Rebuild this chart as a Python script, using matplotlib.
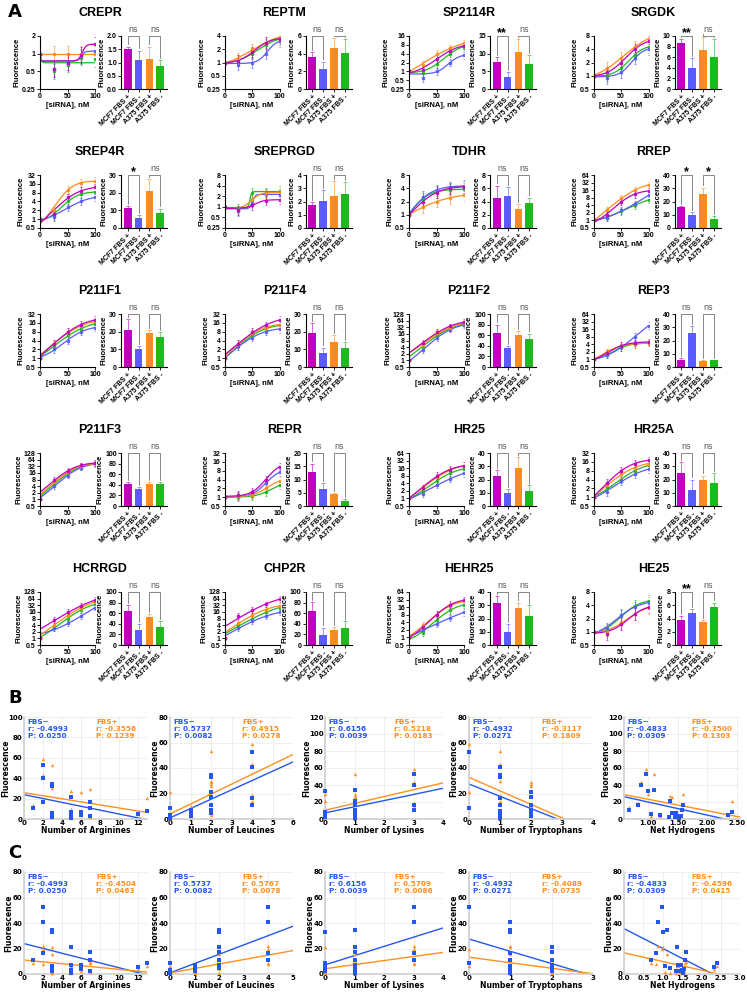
import numpy as np
import matplotlib
matplotlib.use('Agg')
import matplotlib.pyplot as plt
from matplotlib.ticker import FixedLocator

W, H = 747, 993
fig = plt.figure(figsize=(W / 100, H / 100), dpi=100)

# ---------------- data: panel A ----------------
peptides = ['CREPR', 'REPTM', 'SP2114R', 'SRGDK', 'SREP4R', 'SREPRGD', 'TDHR', 'RREP',
            'P211F1', 'P211F4', 'P211F2', 'REP3', 'P211F3', 'REPR', 'HR25', 'HR25A',
            'HCRRGD', 'CHP2R', 'HEHR25', 'HE25']
conc = [0, 25, 50, 75, 100]
# log2 range of the dose-response axes
ylog_lo = [-2, -2, -2, -1, -1, -2, -1, -1, -1, -1, -1, -1, -1, -1, -1, -1, -1, -1, -1, -1]
ylog_hi = [1, 2, 4, 3, 5, 3, 3, 6, 5, 5, 7, 6, 7, 5, 6, 5, 7, 7, 6, 3]

line_mcf7_plus = [[1, 0.55, 0.7, 0.95, 1.45], [1, 1.1, 1.7, 2.8, 3.5], [1, 1.1, 2.7, 5, 7.5],
                  [1, 1.2, 2, 4, 6], [1, 1.5, 5.5, 9, 12], [1, 0.8, 1.1, 1.5, 1.6],
                  [1, 2, 3.2, 4, 4.3], [1, 1.6, 5.5, 11, 15], [1, 3, 8, 14, 20],
                  [1, 3, 8, 13, 20], [1, 6, 20, 35, 55], [1, 1.8, 3.5, 4.5, 5],
                  [1, 8, 20, 35, 45], [1, 1.2, 1.5, 4, 11], [1, 2.5, 8, 14, 20],
                  [1, 3, 8, 14, 18], [1, 7, 16, 30, 55], [1, 10, 20, 35, 60],
                  [1, 2.5, 8, 20, 30], [1, 0.9, 1.5, 2.5, 3.6]]
line_mcf7_minus = [[1, 0.55, 0.7, 0.9, 1.1], [1, 0.9, 1, 1.6, 3], [1, 0.6, 1, 2, 3.5],
                   [1, 0.9, 1.2, 2.5, 4], [1, 1.2, 2.5, 4, 5.5], [1, 0.75, 1.3, 2.3, 2.2],
                   [1, 2.5, 3.6, 4.2, 4.6], [1, 1.3, 2.5, 4.5, 10], [1, 2, 4, 8, 11],
                   [1, 2.5, 5, 8, 10], [1, 3, 10, 25, 40], [1, 1.5, 3, 8, 22],
                   [1, 4, 12, 28, 40], [1, 1.1, 1.3, 3, 7], [1, 1.5, 3.5, 6, 10],
                   [1, 1.5, 3.5, 6, 9], [1, 3, 5, 10, 25], [1, 3, 6, 10, 15],
                   [1, 2, 3.5, 6, 10], [1, 1.2, 2.4, 3.6, 4.6]]
line_a375_plus = [[1, 1, 1, 1, 1], [1, 1.2, 2, 2.8, 3.8], [1, 1.7, 3.8, 6, 9],
                  [1, 1.5, 2.5, 4.5, 7], [1, 2, 10, 17, 20], [1, 0.8, 1.6, 2.4, 2.6],
                  [1, 1.5, 2, 2.4, 2.8], [1, 2.5, 7.5, 16, 26], [1, 3, 8, 12, 18],
                  [1, 3, 7, 11, 14], [1, 5, 18, 30, 50], [1, 2, 3.5, 4, 4.5],
                  [1, 6, 18, 32, 42], [1, 1.1, 1.2, 2, 3.5], [1, 2.5, 7, 13, 20],
                  [1, 2.5, 6, 10, 14], [1, 4, 11, 25, 45], [1, 5, 12, 20, 30],
                  [1, 3, 8, 18, 27], [1, 1, 1.6, 2.5, 3.5]]
line_a375_minus = [[1, 0.5, 0.65, 0.85, 0.8], [1, 1.1, 1.6, 2.5, 3.4], [1, 0.9, 1.8, 4, 7],
                   [1, 1, 1.5, 3, 4.5], [1, 1.3, 4, 7, 8.5], [1, 0.9, 2.5, 2.6, 2.8],
                   [1, 2.3, 3.3, 3.7, 3.8], [1, 1.3, 2.3, 4, 6.5], [1, 2.5, 6, 10, 15],
                   [1, 2.5, 6, 10, 13], [1, 4, 14, 28, 45], [1, 1.5, 3, 4, 4.5],
                   [1, 5, 15, 30, 42], [1, 1, 1.1, 1.5, 2.5], [1, 2, 5, 10, 15],
                   [1, 2, 4, 8, 12], [1, 3, 8, 20, 35], [1, 4, 8, 15, 25],
                   [1, 1.5, 5, 12, 20], [1, 1.1, 2.3, 3.8, 5]]

bar_labels = ['MCF7 FBS +', 'MCF7 FBS -', 'A375 FBS +', 'A375 FBS -']
bar_mean = [[1.5, 1.1, 1.15, 0.87], [3.6, 2.3, 4.6, 4.1], [7.6, 3.5, 10.4, 7.0], [8.6, 4.0, 7.4, 6.0],
            [11.3, 5.7, 20.8, 8.5], [1.75, 2.05, 2.45, 2.55], [4.6, 4.8, 2.8, 3.7], [15.5, 10, 26, 6.5],
            [21, 10, 19, 17], [19, 8, 14, 11], [65, 35, 60, 53], [5.5, 26, 4.5, 5],
            [42, 33, 42, 42], [13, 6.5, 4.5, 2], [23, 10, 29, 11], [25, 12, 20, 17],
            [65, 28, 52, 34], [64, 18, 29, 33], [32, 10, 28, 22], [3.8, 4.8, 3.5, 5.7]]
bar_err = [[0.1, 0.35, 0.45, 0.22], [0.6, 0.8, 1.2, 1.6], [1.5, 1.2, 3.8, 2.6], [0.8, 1.8, 2.5, 3.5],
           [1.2, 1.5, 7, 2.5], [0.2, 0.8, 1.1, 0.9], [1.8, 1.4, 0.8, 0.9], [1, 2, 4.5, 2.5],
           [6, 2, 2, 3], [6, 3, 4, 3], [15, 5, 8, 10], [1, 5, 0.5, 0.5],
           [4, 3, 3, 3], [3, 2, 0.5, 0.5], [4, 3, 8, 5], [8, 8, 3, 8],
           [11, 11, 7, 11], [17, 15, 5, 12], [5, 6, 4, 8], [0.6, 0.6, 0.3, 0.7]]
bar_ymax = [2, 6, 15, 10, 30, 4, 8, 40, 30, 30, 100, 40, 100, 20, 40, 40, 100, 100, 40, 8]
bar_ystep = [0.5, 2, 5, 2, 10, 1, 2, 10, 10, 10, 20, 10, 20, 5, 10, 10, 20, 20, 10, 2]
sig_mcf7 = ['ns', 'ns', '**', '**', '*', 'ns', 'ns', '*', 'ns', 'ns',
            'ns', 'ns', 'ns', 'ns', 'ns', 'ns', 'ns', 'ns', 'ns', '**']
sig_a375 = ['ns', 'ns', 'ns', 'ns', 'ns', 'ns', 'ns', '*', 'ns', 'ns',
            'ns', 'ns', 'ns', 'ns', 'ns', 'ns', 'ns', 'ns', 'ns', 'ns']

# ---------------- data: panels B / C (one value per peptide) ----------------
fbs_minus = [52.6, 40.4, 16.7, 34.4, 32.6, 6.2, 5.0, 21.3, 7.0, 3.1,
             7.0, 4.0, 17.0, 11.0, 2.6, 5.2, 8.3, 11.0, 2.0, 1.0]
fbs_plus_b = [59, 43, 19, 53, 30, 3.5, 3, 27.5, 10, 3.5,
              26, 3.5, 29, 12, 2, 5, 21, 14, 2, 1]
fbs_plus_c = [20, 21.9, 7.8, 15.6, 21.3, 1.9, 1, 6.2, 2, 1.5,
              6, 2, 9.6, 9, 1.5, 4, 6, 8.3, 0.5, 0.5]
arginines = [2, 2, 2, 3, 3, 3, 3, 5, 5, 5, 6, 6, 7, 7, 7, 12, 13, 1, 3, 5]
leucines = [4, 4, 4, 2, 2, 1, 2, 2, 1, 0, 2, 1, 2, 2, 1, 2, 0, 4, 1, 0]
lysines = [3, 3, 3, 1, 0, 0, 1, 1, 0, 1, 1, 0, 1, 1, 0, 0, 0, 3, 0, 1]
tryptophans = [0, 1, 1, 1, 1, 1, 2, 2, 2, 1, 2, 2, 2, 2, 1, 2, 0, 1, 2, 1]
net_hydrogens = [0.97, 0.88, 0.84, 1.1, 1.01, 1.06, 1.2, 1.37, 1.47, 1.5,
                 1.4, 1.55, 1.6, 1.58, 1.45, 2.34, 2.41, 0.69, 1.35, 1.52]

stats_minus_b = [(-0.4993, 0.0250), (0.5737, 0.0082), (0.6156, 0.0039), (-0.4932, 0.0271), (-0.4833, 0.0309)]
stats_plus_b = [(-0.3556, 0.1239), (0.4915, 0.0278), (0.5218, 0.0183), (-0.3117, 0.1809), (-0.3500, 0.1303)]
stats_minus_c = [(-0.4993, 0.0250), (0.5737, 0.0082), (0.6156, 0.0039), (-0.4932, 0.0271), (-0.4833, 0.0309)]
stats_plus_c = [(-0.4504, 0.0463), (0.5767, 0.0078), (0.5709, 0.0086), (-0.4089, 0.0735), (-0.4596, 0.0415)]

C_MAG, C_BLU, C_ORA, C_GRN = '#c000c0', '#5b5bff', '#ff8c1a', '#1fb81f'
SC_BLUE, SC_ORANGE = '#2457f0', '#ff8f1f'
AF = 'Liberation Sans'


def px_axes(l, t, r, b):
    return fig.add_axes([l / W, 1 - b / H, (r - l) / W, (b - t) / H])


# grid-search logistic fit (bottom/top solved by least squares)
G50, GS = np.meshgrid(np.linspace(0, 160, 161), np.linspace(1.5, 45, 88))
G50, GS = G50.ravel(), GS.ravel()


def logistic_curve(x, y, xs):
    x = np.asarray(x, float)
    y = np.asarray(y, float)
    if np.ptp(y) < 1e-9:
        return np.full_like(xs, y[0])
    z = np.clip(-(x[None, :] - G50[:, None]) / GS[:, None], -50, 50)
    f = 1 / (1 + np.exp(z))
    a, b = 1 - f, f
    saa, sab, sbb = (a * a).sum(1), (a * b).sum(1), (b * b).sum(1)
    say, sby = (a * y).sum(1), (b * y).sum(1)
    det = saa * sbb - sab ** 2
    det[np.abs(det) < 1e-9] = np.nan
    bot = (sbb * say - sab * sby) / det
    top = (saa * sby - sab * say) / det
    res = ((bot[:, None] * a + top[:, None] * b - y) ** 2).sum(1)
    res[~(bot > 0.1)] = np.inf
    res[~np.isfinite(res)] = np.inf
    k = int(np.argmin(res))
    zz = np.clip(-(xs - G50[k]) / GS[k], -50, 50)
    return bot[k] + (top[k] - bot[k]) / (1 + np.exp(zz))


# ---------------- panel A ----------------
for i, name in enumerate(peptides):
    row, col = divmod(i, 4)
    x0 = 184.5 * col
    top = 36 + 139 * row
    fig.text((100 + x0) / W, 1 - (13 + 139 * row) / H, name, ha='center', va='center',
             fontsize=9, fontweight='bold', family=AF)

    ax = px_axes(40 + x0, top, 95 + x0, top + 53)
    ax.set_yscale('log', base=2)
    ticks = [2.0 ** e for e in range(ylog_lo[i], ylog_hi[i] + 1)]
    xs = np.linspace(0, 100, 201)
    for vals, c in [(line_a375_minus[i], C_GRN), (line_mcf7_minus[i], C_BLU),
                    (line_a375_plus[i], C_ORA), (line_mcf7_plus[i], C_MAG)]:
        v = np.array(vals, dtype=float)
        ax.plot(xs, logistic_curve(conc, v, xs), color=c, lw=0.9)
        lo = v - v / 1.35
        hi = v * 1.35 - v
        lo[0] = hi[0] = 0
        ax.errorbar(conc, v, yerr=[lo, hi], fmt='s', ms=1.8, color=c, elinewidth=0.5,
                    capsize=1, capthick=0.5, alpha=0.85)
    ax.set_xlim(0, 100)
    ax.set_ylim(ticks[0], ticks[-1])
    ax.yaxis.set_major_locator(FixedLocator(ticks))
    ax.yaxis.set_minor_locator(FixedLocator([]))
    ax.set_yticklabels(['%g' % t for t in ticks])
    ax.set_xticks([0, 50, 100])
    ax.set_xlabel('[siRNA], nM', fontsize=5.5, fontweight='bold', family=AF, labelpad=1)
    ax.set_ylabel('Fluorescence', fontsize=5.5, fontweight='bold', family=AF, labelpad=1)

    bx = px_axes(121 + x0, top, 167 + x0, top + 53)
    m = bar_mean[i]
    e = bar_err[i]
    cols = [C_MAG, C_BLU, C_ORA, C_GRN]
    bx.bar(range(4), m, width=0.72, color=cols)
    for k in range(4):
        bx.errorbar(k, m[k], yerr=[[0], [e[k]]], color=cols[k],
                    elinewidth=0.6, capsize=1.5, capthick=0.6, alpha=0.7)
    ymax = bar_ymax[i]
    bx.set_ylim(0, ymax)
    bx.set_xlim(-0.6, 3.6)
    yt = np.arange(0, ymax + 1e-9, bar_ystep[i])
    bx.set_yticks(yt)
    if bar_ystep[i] < 1:
        bx.set_yticklabels(['%.1f' % t for t in yt])
    bx.set_xticks(range(4))
    bx.set_xticklabels(bar_labels, rotation=45, ha='right', rotation_mode='anchor',
                       fontsize=5, fontweight='bold', family=AF)
    bx.set_ylabel('Fluorescence', fontsize=5.5, fontweight='bold', family=AF, labelpad=1)
    for (a, b_), lab in [((0, 1), sig_mcf7[i]), ((2, 3), sig_a375[i])]:
        yb = ymax * 1.0
        ya = min(m[a] + e[a], ymax) + ymax * 0.04
        yb2 = min(m[b_] + e[b_], ymax) + ymax * 0.04
        bx.plot([a, a, b_, b_], [ya, yb, yb, yb2], color='0.45', lw=0.6, clip_on=False)
        if lab == 'ns':
            bx.text((a + b_) / 2, yb + ymax * 0.03, lab, ha='center', va='bottom',
                    fontsize=6.5, color='0.35', family=AF)
        else:
            bx.text((a + b_) / 2, yb - ymax * 0.06, lab, ha='center', va='bottom',
                    fontsize=9, fontweight='bold', family=AF)

    for a_ in (ax, bx):
        for s in ('top', 'right'):
            a_.spines[s].set_visible(False)
        for s in ('left', 'bottom'):
            a_.spines[s].set_linewidth(0.8)
        a_.tick_params(labelsize=5, width=0.6, length=2, pad=1)
        for lab in a_.get_yticklabels():
            lab.set_fontweight('bold')
            lab.set_family(AF)
    for lab in ax.get_xticklabels():
        lab.set_fontweight('bold')
        lab.set_family(AF)

# ---------------- panels B and C ----------------
props = [arginines, leucines, lysines, tryptophans, net_hydrogens]
xlabels = ['Number of Arginines', 'Number of Leucines', 'Number of Lysines',
           'Number of Tryptophans', 'Net Hydrogens']
lefts = [24, 170, 325, 469, 624]
rights = [147, 293, 443, 593, 740]
b_xlim = [(0, 13), (0, 6), (0, 4), (0, 4), (0.6, 2.55)]
b_xticks = [np.arange(0, 13, 2), np.arange(0, 7, 1), np.arange(0, 5, 1), np.arange(0, 5, 1),
            [1.0, 1.5, 2.0, 2.5]]
b_ymax = [100, 80, 120, 80, 120]
c_xlim = [(0, 13), (0, 5), (0, 4), (0, 3), (0, 3)]
c_xticks = [np.arange(0, 13, 2), np.arange(0, 6, 1), np.arange(0, 5, 1), np.arange(0, 4, 1),
            np.arange(0, 3.01, 0.5)]
c_ymax = [80, 80, 80, 80, 80]

for grp, (tp, bt, yplus, xlims, xtks, ymaxs, s_m, s_p) in enumerate([
        (717, 819, fbs_plus_b, b_xlim, b_xticks, b_ymax, stats_minus_b, stats_plus_b),
        (872, 974, fbs_plus_c, c_xlim, c_xticks, c_ymax, stats_minus_c, stats_plus_c)]):
    for j in range(5):
        ax = px_axes(lefts[j], tp, rights[j], bt)
        x = np.array(props[j], dtype=float)
        ax.grid(True, color='#ececec', lw=0.6)
        ax.set_axisbelow(True)
        xx = np.linspace(xlims[j][0], xlims[j][1], 50)
        for yv, c in [(fbs_minus, SC_BLUE), (yplus, SC_ORANGE)]:
            cf = np.polyfit(x, np.array(yv), 1)
            ax.plot(xx, np.polyval(cf, xx), color=c, lw=1.0)
        ax.scatter(x, yplus, marker='^', s=6, color=SC_ORANGE, zorder=3, lw=0, clip_on=False)
        ax.scatter(x, fbs_minus, marker='s', s=6, color=SC_BLUE, zorder=3, lw=0, clip_on=False)
        ax.set_xlim(*xlims[j])
        ax.set_ylim(0, ymaxs[j])
        ax.set_xticks(xtks[j])
        if j == 4 and grp == 0:
            ax.set_xticklabels(['%.2f' % t for t in xtks[j]])
        ax.set_yticks(np.arange(0, ymaxs[j] + 1, 20))
        ax.tick_params(labelsize=5, length=0, pad=1)
        for lab in ax.get_xticklabels() + ax.get_yticklabels():
            lab.set_fontweight('bold')
        for s in ('top', 'right'):
            ax.spines[s].set_visible(False)
        for s in ('left', 'bottom'):
            ax.spines[s].set_color('#cfcfcf')
            ax.spines[s].set_linewidth(1.2)
        ax.set_xlabel(xlabels[j], fontsize=5.5, fontweight='bold', labelpad=0)
        ax.set_ylabel('Fluorescence', fontsize=5.5, fontweight='bold')
        off = 14 if ymaxs[j] >= 100 else 11
        ax.yaxis.set_label_coords(-off / (rights[j] - lefts[j]), 0.5)
        ax.text(0.03, 0.98, 'FBS\u2212\nr: %.4f\nP: %.4f' % s_m[j], transform=ax.transAxes,
                ha='left', va='top', fontsize=5.2, fontweight='bold', color=SC_BLUE,
                linespacing=1.2)
        ax.text(0.585, 0.98, 'FBS+\nr: %.4f\nP: %.4f' % s_p[j], transform=ax.transAxes,
                ha='left', va='top', fontsize=5.2, fontweight='bold', color=SC_ORANGE,
                linespacing=1.2)

for lab, yy in [('A', 12), ('B', 698), ('C', 853)]:
    fig.text(8 / W, 1 - yy / H, lab, fontsize=13, fontweight='bold', ha='left', va='center')

fig.savefig('out.png', dpi=100)
